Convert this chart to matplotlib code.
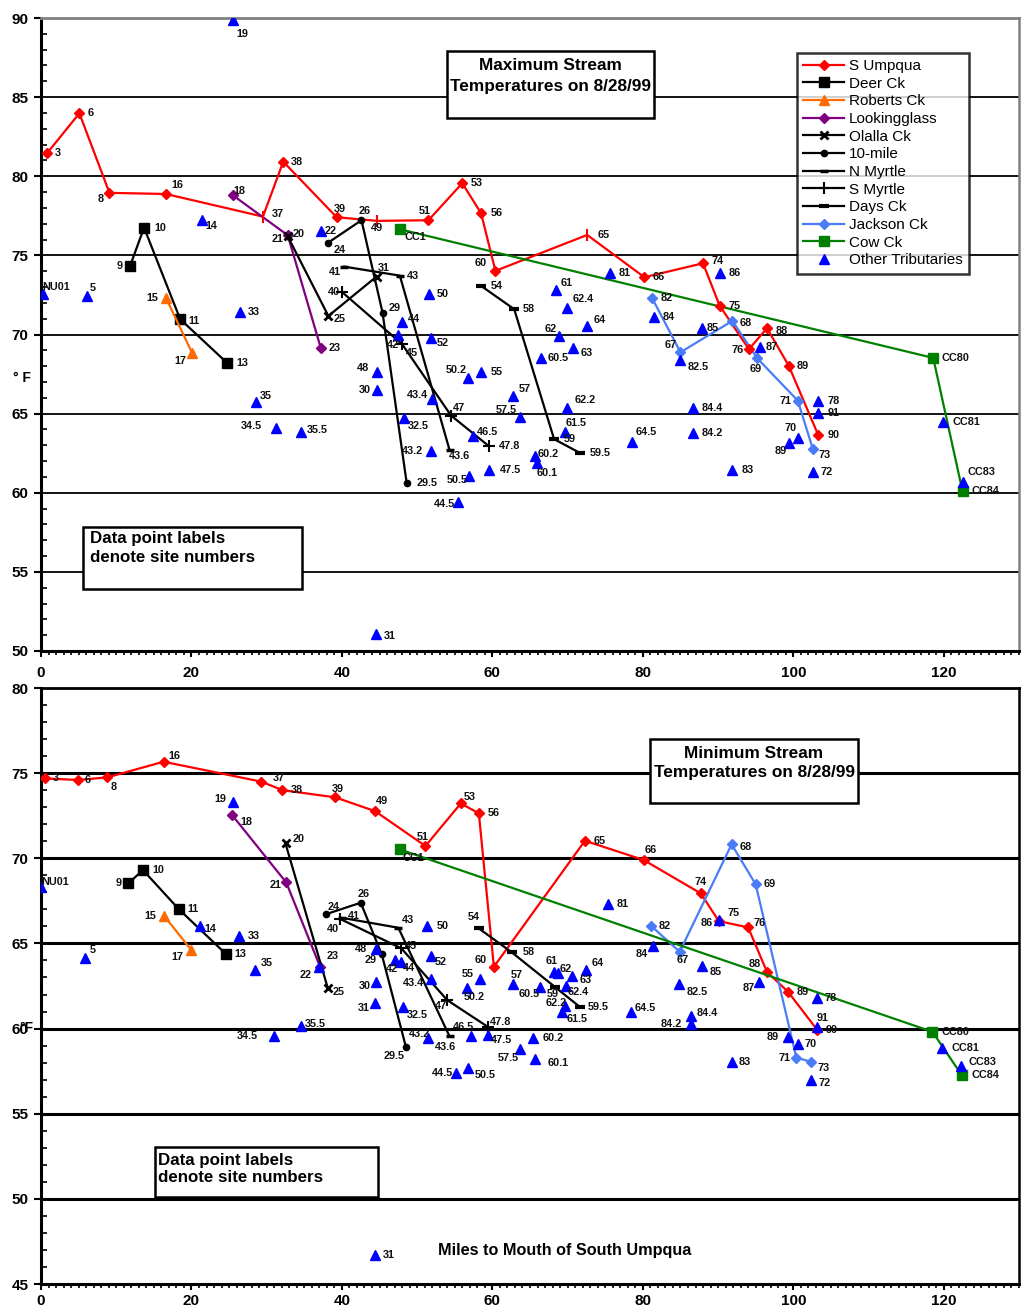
import matplotlib
matplotlib.use("Agg")
import matplotlib.pyplot as plt
from matplotlib.patches import Rectangle
from matplotlib.lines import Line2D
from matplotlib.ticker import MultipleLocator

plt.rcParams['font.family'] = ['Liberation Sans', 'DejaVu Sans']

# ---------------- DATA : maximum temperatures (top panel) ----------------
su_max_lab = ["3", "6", "8", "16", "37", "38", "39", "49", "51", "53", "56", "60", "65", "66", "74", "75", "76", "88", "89", "90"]
su_max_x = [0.8, 5.1, 9.1, 16.6, 29.5, 32.2, 39.3, 44.7, 51.5, 56.0, 58.5, 60.4, 72.6, 80.2, 88.0, 90.2, 94.1, 96.5, 99.4, 103.3]
su_max_y = [81.45, 83.98, 78.95, 78.88, 77.45, 80.92, 77.41, 77.18, 77.22, 79.56, 77.66, 74.02, 76.29, 73.62, 74.5, 71.83, 69.07, 70.4, 68.02, 63.66]

deer_max_lab = ["9", "10", "11", "13"]
deer_max_x = [11.85, 13.7, 18.5, 24.7]
deer_max_y = [74.35, 76.75, 70.97, 68.22]

rob_max_lab = ["15", "17"]
rob_max_x = [16.6, 20.1]
rob_max_y = [72.33, 68.82]

look_max_lab = ["18", "21", "23"]
look_max_x = [25.5, 32.8, 37.2]
look_max_y = [78.8, 76.27, 69.13]

ola_max_lab = ["20", "25", "31"]
ola_max_x = [32.8, 38.2, 44.6]
ola_max_y = [76.2, 71.17, 73.66]

ten_max_lab = ["24", "26", "29", "29.5"]
ten_max_x = [38.2, 42.6, 45.4, 48.6]
ten_max_y = [75.81, 77.22, 71.38, 60.64]

nmy_max_lab = ["41", "43", "43.6"]
nmy_max_x = [40.3, 47.7, 54.3]
nmy_max_y = [74.29, 73.72, 62.71]

smy_max_lab = ["40", "45", "47", "47.8"]
smy_max_x = [40.05, 48.0, 54.5, 59.5]
smy_max_y = [72.67, 69.39, 64.88, 62.96]

days_max_lab = ["54", "58", "59", "59.5"]
days_max_x = [58.5, 62.9, 68.2, 71.7]
days_max_y = [73.07, 71.6, 63.39, 62.5]

jack_max_lab = ["82", "67", "68", "69", "71", "73"]
jack_max_x = [81.2, 85.0, 91.9, 95.2, 100.6, 102.6]
jack_max_y = [72.33, 68.88, 70.86, 68.5, 65.82, 62.75]

cow_max_lab = ["CC1", "CC80", "CC84"]
cow_max_x = [47.7, 118.6, 122.5]
cow_max_y = [76.65, 68.52, 60.08]

trib_max_lab = ["NU01", "5", "19", "14", "33", "22", "35", "34.5", "35.5", "31", "50", "44", "42", "52", "48", "30",
                "50.2", "55", "43.4", "32.5", "43.2", "46.5", "47.5", "50.5", "44.5", "57", "57.5", "61", "62.4", "64",
                "62", "63", "60.5", "62.2", "61.5", "60.2", "60.1", "81", "64.5", "86", "84", "85", "82.5", "87", "84.4",
                "84.2", "83", "78", "91", "70", "89", "72", "CC81", "CC83"]
trib_max_x = [0.2, 6.1, 25.5, 21.4, 26.5, 37.2, 28.6, 31.2, 34.6, 44.5, 51.6, 48.0, 47.4, 51.9, 44.6, 44.7,
              56.7, 58.5, 52.0, 48.3, 51.8, 57.4, 59.6, 56.9, 55.4, 62.8, 63.7, 68.5, 69.9, 72.6,
              68.8, 70.7, 66.5, 69.9, 69.6, 65.6, 65.9, 75.7, 78.5, 90.3, 81.5, 87.9, 85.0, 95.6, 86.7,
              86.7, 91.9, 103.3, 103.3, 100.6, 99.4, 102.6, 119.9, 122.5]
trib_max_y = [72.56, 72.46, 89.9, 77.24, 71.43, 76.56, 65.76, 64.12, 63.87, 51.09, 72.55, 70.78, 69.97, 69.77, 67.66, 66.5,
              67.24, 67.66, 65.91, 64.75, 62.65, 63.61, 61.45, 61.07, 59.44, 66.12, 64.78, 72.82, 71.7, 70.56,
              69.91, 69.13, 68.54, 65.38, 63.83, 62.35, 61.87, 73.87, 63.23, 73.87, 71.13, 70.4, 68.4, 69.24, 65.38,
              63.76, 61.45, 65.82, 65.03, 63.49, 63.13, 61.3, 64.5, 60.71]

# ---------------- DATA : minimum temperatures (bottom panel) ----------------
su_min_lab = ["3", "6", "8", "16", "37", "38", "39", "49", "51", "53", "56", "60", "65", "66", "74", "75", "76", "88", "89", "90"]
su_min_x = [0.5, 4.9, 8.8, 16.3, 29.3, 32.1, 39.1, 44.4, 51.1, 55.8, 58.2, 60.2, 72.3, 80.1, 87.7, 90.1, 94.0, 96.5, 99.3, 103.2]
su_min_y = [74.69, 74.6, 74.75, 75.67, 74.5, 74.0, 73.58, 72.77, 70.72, 73.22, 72.64, 63.63, 71.03, 69.9, 67.94, 66.31, 65.94, 63.33, 62.16, 59.91]

deer_min_lab = ["9", "10", "11", "13"]
deer_min_x = [11.6, 13.55, 18.3, 24.6]
deer_min_y = [68.52, 69.31, 67.02, 64.37]

rob_min_lab = ["15", "17"]
rob_min_x = [16.4, 20.0]
rob_min_y = [66.6, 64.6]

look_min_lab = ["18", "21", "23"]
look_min_x = [25.4, 32.6, 37.1]
look_min_y = [72.54, 68.58, 63.63]

ola_min_lab = ["20", "25"]
ola_min_x = [32.5, 38.1]
ola_min_y = [70.87, 62.41]

ten_min_lab = ["24", "26", "29", "29.5"]
ten_min_x = [37.9, 42.5, 45.3, 48.5]
ten_min_y = [66.72, 67.39, 64.35, 58.93]

nmy_min_lab = ["41", "43", "43.6"]
nmy_min_x = [40.05, 47.5, 54.3]
nmy_min_y = [66.5, 65.92, 59.55]

smy_min_lab = ["40", "45", "47", "47.8"]
smy_min_x = [39.8, 47.9, 54.0, 59.4]
smy_min_y = [66.43, 64.71, 61.67, 60.1]

days_min_lab = ["54", "58", "59", "59.5"]
days_min_x = [58.2, 62.6, 68.3, 71.6]
days_min_y = [65.88, 64.47, 62.45, 61.28]

jack_min_lab = ["82", "67", "68", "69", "71", "73"]
jack_min_x = [81.1, 84.9, 91.8, 95.0, 100.4, 102.4]
jack_min_y = [66.03, 64.51, 70.82, 68.47, 58.3, 58.04]

cow_min_lab = ["CC1", "CC80", "CC84"]
cow_min_x = [47.7, 118.5, 122.4]
cow_min_y = [70.52, 59.81, 57.26]

trib_min_lab = ["NU01", "5", "19", "14", "33", "35", "22", "34.5", "35.5", "48", "42", "44", "50", "52", "30", "31",
                "43.4", "32.5", "43.2", "55", "50.2", "46.5", "47.5", "57", "60.5", "61", "62", "63", "64", "62.4",
                "62.2", "61.5", "60.2", "57.5", "60.1", "44.5", "50.5", "81", "64.5", "84", "85", "82.5", "84.4",
                "84.2", "86", "87", "78", "91", "89", "70", "83", "72", "CC81", "CC83", "31"]
trib_min_x = [0.0, 5.9, 25.5, 21.2, 26.3, 28.4, 36.9, 31.0, 34.5, 44.5, 47.1, 47.9, 51.3, 51.8, 44.5, 44.4,
              51.8, 48.1, 51.5, 58.3, 56.6, 57.1, 59.4, 62.7, 66.3, 68.2, 68.7, 70.6, 72.4, 69.8,
              69.7, 69.3, 65.4, 63.7, 65.7, 55.2, 56.7, 75.4, 78.4, 81.3, 87.8, 84.8, 86.4,
              86.4, 90.1, 95.5, 103.2, 103.2, 99.3, 100.6, 91.8, 102.3, 119.7, 122.3, 44.4]
trib_min_y = [68.33, 64.15, 73.28, 66.02, 65.43, 63.43, 63.59, 59.55, 60.16, 64.65, 64.02, 63.92, 66.03, 64.25, 62.74, 61.53,
              62.9, 61.24, 59.45, 62.94, 62.36, 59.55, 59.65, 62.59, 62.45, 63.3, 63.24, 63.08, 63.43, 62.49,
              61.32, 60.95, 59.45, 58.79, 58.2, 57.42, 57.66, 67.31, 60.98, 64.86, 63.68, 62.61, 60.73,
              60.26, 66.37, 62.74, 61.8, 60.1, 59.48, 59.08, 58.04, 56.97, 58.83, 57.81, 46.69]

SERIES_NAMES = ["S Umpqua", "Deer Ck", "Roberts Ck", "Lookingglass", "Olalla Ck", "10-mile",
                "N Myrtle", "S Myrtle", "Days Ck", "Jackson Ck", "Cow Ck"]
MAX_DATA = {
    "S Umpqua": (su_max_lab, su_max_x, su_max_y), "Deer Ck": (deer_max_lab, deer_max_x, deer_max_y),
    "Roberts Ck": (rob_max_lab, rob_max_x, rob_max_y), "Lookingglass": (look_max_lab, look_max_x, look_max_y),
    "Olalla Ck": (ola_max_lab, ola_max_x, ola_max_y), "10-mile": (ten_max_lab, ten_max_x, ten_max_y),
    "N Myrtle": (nmy_max_lab, nmy_max_x, nmy_max_y), "S Myrtle": (smy_max_lab, smy_max_x, smy_max_y),
    "Days Ck": (days_max_lab, days_max_x, days_max_y), "Jackson Ck": (jack_max_lab, jack_max_x, jack_max_y),
    "Cow Ck": (cow_max_lab, cow_max_x, cow_max_y), "Other Tributaries": (trib_max_lab, trib_max_x, trib_max_y),
}
MIN_DATA = {
    "S Umpqua": (su_min_lab, su_min_x, su_min_y), "Deer Ck": (deer_min_lab, deer_min_x, deer_min_y),
    "Roberts Ck": (rob_min_lab, rob_min_x, rob_min_y), "Lookingglass": (look_min_lab, look_min_x, look_min_y),
    "Olalla Ck": (ola_min_lab, ola_min_x, ola_min_y), "10-mile": (ten_min_lab, ten_min_x, ten_min_y),
    "N Myrtle": (nmy_min_lab, nmy_min_x, nmy_min_y), "S Myrtle": (smy_min_lab, smy_min_x, smy_min_y),
    "Days Ck": (days_min_lab, days_min_x, days_min_y), "Jackson Ck": (jack_min_lab, jack_min_x, jack_min_y),
    "Cow Ck": (cow_min_lab, cow_min_x, cow_min_y), "Other Tributaries": (trib_min_lab, trib_min_x, trib_min_y),
}

# ---------------- STYLES ----------------
STYLES = {
    "S Umpqua": dict(color='#FF0000', marker='D', ms=5),
    "Deer Ck": dict(color='black', marker='s', ms=7),
    "Roberts Ck": dict(color='#FF6A00', marker='^', ms=7),
    "Lookingglass": dict(color='#800080', marker='D', ms=5),
    "Olalla Ck": dict(color='black', marker='x', ms=6, mew=2),
    "10-mile": dict(color='black', marker='o', ms=4.5),
    "N Myrtle": dict(color='black', marker='_', ms=6, mew=2.5),
    "S Myrtle": dict(color='black', marker='+', ms=8, mew=1.5),
    "Days Ck": dict(color='black', marker='_', ms=7, mew=3),
    "Jackson Ck": dict(color='#4A7CF7', marker='D', ms=5),
    "Cow Ck": dict(color='#008000', marker='s', ms=7),
}
TRIB_STYLE = dict(color='#0000FF', marker='^', ms=7, linestyle='none')
TICKMARK_PTS_MAX = {"37", "49", "65"}   # S Umpqua points drawn with a vertical tick in the top panel

# label offsets in pixels (dx, dy up-positive, horizontal alignment)
OFF_MAX = {
    "S Umpqua": {"8": (-6, -6, 'r'), "16": (5, 9, 'l'), "37": (9, 3, 'l'), "39": (3, 8, 'c'), "49": (0, -7, 'c'),
                 "51": (-4, 9, 'c'), "56": (10, 0, 'l'), "60": (-9, 8, 'r'), "65": (10, 0, 'l'), "74": (8, 2, 'l'),
                 "75": (9, 0, 'l'), "76": (-5, -1, 'r'), "88": (9, -3, 'l'), "90": (9, 0, 'l')},
    "Deer Ck": {"9": (-8, 0, 'r'), "10": (10, 0, 'l'), "11": (8, -2, 'l'), "13": (10, 0, 'l')},
    "Roberts Ck": {"15": (-8, 0, 'r'), "17": (-6, -8, 'r')},
    "Lookingglass": {"18": (1, 4, 'l'), "21": (-4, -4, 'r')},
    "Olalla Ck": {"20": (5, 2, 'l'), "25": (5, -3, 'l'), "31": (7, 9, 'c')},
    "10-mile": {"24": (5, -7, 'l'), "26": (3, 9, 'c'), "29": (6, 5, 'l'), "29.5": (10, 0, 'l')},
    "N Myrtle": {"41": (-3, -5, 'r'), "43": (7, 0, 'l'), "43.6": (-1, -6, 'l')},
    "S Myrtle": {"40": (-2, 0, 'r'), "45": (4, -9, 'l'), "47": (2, 8, 'l'), "47.8": (10, 0, 'l')},
    "Days Ck": {"54": (10, 0, 'l'), "58": (9, 0, 'l'), "59": (10, 0, 'l'), "59.5": (9, 0, 'l')},
    "Jackson Ck": {"82": (9, 0, 'l'), "67": (-4, 7, 'r'), "68": (7, -2, 'l'), "69": (-2, -11, 'c'),
                   "71": (-6, 0, 'r'), "73": (6, -6, 'l')},
    "Cow Ck": {"CC1": (5, -8, 'l'), "CC84": (9, 0, 'l')},
    "Other Tributaries": {
        "NU01": (0, 7, 'l'), "5": (3, 8, 'l'), "19": (4, -14, 'l'), "14": (3, -6, 'l'), "33": (7, 0, 'l'),
        "22": (4, 0, 'l'), "35": (4, 6, 'l'), "34.5": (-14, 2, 'r'), "35.5": (5, 2, 'l'), "31": (8, -2, 'l'),
        "44": (6, 3, 'l'), "42": (-5, -10, 'c'), "52": (5, -5, 'l'), "48": (-7, 4, 'r'), "30": (-6, 0, 'r'),
        "50.2": (-1, 8, 'r'), "55": (10, 0, 'l'), "43.4": (-4, 4, 'r'), "32.5": (3, -8, 'l'), "43.2": (-8, 0, 'r'),
        "46.5": (4, 4, 'l'), "47.5": (10, 0, 'l'), "50.5": (-1, -4, 'r'), "44.5": (-3, -2, 'r'), "57": (5, 7, 'l'),
        "57.5": (-3, 7, 'r'), "61": (4, 7, 'l'), "62.4": (6, 9, 'l'), "64": (6, 6, 'l'), "62": (-2, 7, 'r'),
        "63": (8, -5, 'l'), "60.5": (6, 0, 'l'), "62.2": (8, 8, 'l'), "61.5": (1, 9, 'l'), "60.2": (3, 2, 'l'),
        "60.1": (0, -10, 'l'), "64.5": (4, 10, 'l'), "85": (4, 0, 'l'), "82.5": (7, -7, 'l'), "87": (5, 0, 'l'),
        "83": (9, 0, 'l'), "78": (9, 0, 'l'), "91": (9, 0, 'l'), "70": (-7, 10, 'c'), "89": (-2, -8, 'r'),
        "CC81": (9, 0, 'l'), "CC83": (5, 10, 'l')},
}
OFF_MIN = {
    "S Umpqua": {"6": (7, 0, 'l'), "8": (3, -10, 'l'), "16": (5, 6, 'l'), "37": (11, 4, 'l'), "39": (3, 8, 'c'),
                 "49": (7, 10, 'c'), "51": (-3, 9, 'c'), "53": (3, 6, 'l'), "56": (9, 0, 'l'), "60": (-7, 7, 'r'),
                 "65": (9, 0, 'l'), "66": (7, 10, 'c'), "74": (0, 11, 'c'), "75": (9, 8, 'l'), "76": (5, 4, 'l'),
                 "88": (-6, 8, 'r'), "89": (9, 0, 'l')},
    "Deer Ck": {"9": (-7, 0, 'r'), "10": (9, 0, 'l'), "11": (9, 0, 'l')},
    "Roberts Ck": {"15": (-8, 0, 'r'), "17": (-8, -7, 'r')},
    "Lookingglass": {"18": (8, -7, 'l'), "21": (-5, -3, 'r'), "23": (7, 11, 'l')},
    "Olalla Ck": {"20": (7, 4, 'l'), "25": (5, -4, 'l')},
    "10-mile": {"24": (2, 7, 'l'), "26": (3, 9, 'c'), "29": (-5, -6, 'r'), "29.5": (-12, -9, 'c')},
    "N Myrtle": {"41": (6, 2, 'l'), "43": (4, 8, 'l'), "43.6": (-4, -11, 'c')},
    "S Myrtle": {"40": (-7, -10, 'c'), "45": (4, 2, 'l'), "47": (-6, -6, 'c'), "47.8": (2, 5, 'l')},
    "Days Ck": {"54": (-5, 11, 'c'), "58": (11, 0, 'l'), "59": (-2, -7, 'c')},
    "Jackson Ck": {"67": (3, -8, 'c'), "68": (8, -3, 'l'), "71": (-6, 0, 'r'), "73": (6, -6, 'l')},
    "Cow Ck": {"CC1": (3, -9, 'l'), "CC80": (9, 0, 'l'), "CC84": (10, 0, 'l')},
    "Other Tributaries": {
        "NU01": (0, 5, 'l'), "5": (4, 8, 'l'), "19": (-7, 3, 'r'), "14": (4, -3, 'l'), "33": (9, 0, 'l'),
        "35": (6, 7, 'l'), "22": (-7, -8, 'r'), "34.5": (-16, 0, 'r'), "35.5": (4, 2, 'l'), "48": (-9, 0, 'r'),
        "42": (-3, -9, 'c'), "44": (2, -6, 'l'), "50": (10, 0, 'l'), "52": (4, -6, 'l'), "30": (-5, -4, 'r'),
        "31": (-5, -5, 'r'), "43.4": (-7, -4, 'r'), "32.5": (4, -8, 'l'), "43.2": (-9, 4, 'c'), "55": (-6, 5, 'r'),
        "50.2": (7, -9, 'c'), "46.5": (-7, 9, 'c'), "47.5": (3, -5, 'l'), "57": (4, 9, 'c'), "60.5": (-11, -7, 'c'),
        "61": (-2, 11, 'c'), "62": (2, 4, 'l'), "63": (7, -4, 'l'), "64": (6, 7, 'l'), "62.4": (2, -6, 'l'),
        "62.2": (-9, 3, 'c'), "61.5": (4, -7, 'l'), "60.2": (10, 0, 'l'), "57.5": (-12, -9, 'c'), "60.1": (12, -4, 'l'),
        "44.5": (-3, 0, 'r'), "50.5": (7, -7, 'l'), "64.5": (4, 4, 'l'), "84": (-5, -8, 'r'), "85": (8, -6, 'l'),
        "82.5": (8, -8, 'l'), "84.4": (6, 3, 'l'), "84.2": (-9, 0, 'r'), "86": (-6, -3, 'r'), "87": (-5, -6, 'r'),
        "78": (7, 0, 'l'), "91": (5, 9, 'c'), "89": (-9, 0, 'r'), "70": (7, 0, 'l'), "83": (7, 0, 'l'),
        "72": (8, -3, 'l'), "CC81": (10, 0, 'l'), "CC83": (7, 4, 'l'), "31#2": (8, 0, 'l')},
}
DEFAULT_OFF = (8, 0, 'l')
HA = {'l': 'left', 'r': 'right', 'c': 'center'}

W, H = 1021, 1313
fig = plt.figure(figsize=(W / 100, H / 100), dpi=100)


def fx(px):
    return px / W


def fy(py):
    return 1 - py / H


def label_points(ax, name, labs, xs, ys, offs):
    seen = {}
    for lab, x, y in zip(labs, xs, ys):
        key = lab if lab not in seen else lab + "#2"
        seen[lab] = 1
        dx, dy, ha = offs.get(name, {}).get(key, DEFAULT_OFF)
        ax.annotate(lab, (x, y), xytext=(dx, dy), textcoords='offset pixels', ha=HA[ha], va='center',
                    fontsize=7.8, fontweight='bold', color='#111111', zorder=6, annotation_clip=False)


def draw_panel(ax, data, offs, ylim, gridvals, grid_lw, top_color, right_color, tick_pts, xpad):
    ax.set_xlim(0, 130)
    ax.set_ylim(*ylim)
    for gv in gridvals:
        ax.axhline(gv, color='black', lw=grid_lw, zorder=1)
    for name in SERIES_NAMES:
        labs, xs, ys = data[name]
        st = dict(STYLES[name])
        if name == "S Umpqua" and tick_pts:
            ax.plot(xs, ys, color=st['color'], lw=1.6, zorder=3)
            for lab, x, y in zip(labs, xs, ys):
                if lab in tick_pts:
                    ax.plot([x], [y], marker='|', ms=9, mew=1.5, color=st['color'], zorder=4)
                else:
                    ax.plot([x], [y], marker='D', ms=st['ms'], color=st['color'], zorder=4)
        else:
            ax.plot(xs, ys, lw=1.6, zorder=3, **st)
        label_points(ax, name, labs, xs, ys, offs)
    labs, xs, ys = data["Other Tributaries"]
    ax.plot(xs, ys, zorder=5, **TRIB_STYLE)
    label_points(ax, "Other Tributaries", labs, xs, ys, offs)

    ax.xaxis.set_major_locator(MultipleLocator(20))
    ax.xaxis.set_minor_locator(MultipleLocator(1))
    ax.yaxis.set_major_locator(MultipleLocator(5))
    ax.yaxis.set_minor_locator(MultipleLocator(1))
    ax.tick_params(axis='y', which='major', direction='out', length=5, width=1.5, pad=4)
    ax.tick_params(axis='y', which='minor', direction='in', length=4, width=1.2)
    ax.tick_params(axis='x', which='major', direction='out', length=4, width=1.5, pad=xpad)
    ax.tick_params(axis='x', which='minor', direction='out', length=3, width=1.2)
    for lab in ax.get_xticklabels() + ax.get_yticklabels():
        lab.set_fontsize(11)
        lab.set_fontweight('bold')
    ax.spines['left'].set_linewidth(2.2)
    ax.spines['bottom'].set_linewidth(2.2)
    ax.spines['top'].set_color(top_color)
    ax.spines['top'].set_linewidth(2)
    ax.spines['right'].set_color(right_color)
    ax.spines['right'].set_linewidth(1.8)


ax1 = fig.add_axes([fx(41), fy(651), fx(1019) - fx(41), fy(18) - fy(651)])
ax2 = fig.add_axes([fx(41), fy(1284), fx(1019) - fx(41), fy(688) - fy(1284)])

draw_panel(ax1, MAX_DATA, OFF_MAX, (50, 90), [55, 60, 65, 70, 75, 80, 85], 1.3, '#808080', '#808080',
           TICKMARK_PTS_MAX, 7)
draw_panel(ax2, MIN_DATA, OFF_MIN, (45, 80), [50, 55, 60, 65, 70, 75], 2.2, 'black', 'black', None, 3)

# legend (top panel)
handles = []
for name in SERIES_NAMES:
    handles.append(Line2D([], [], lw=1.6, **STYLES[name]))
handles.append(Line2D([], [], **TRIB_STYLE))
leg = ax1.legend(handles, SERIES_NAMES + ["Other Tributaries"], loc='upper left',
                 bbox_to_anchor=((797 - 41) / 978, (651 - 53) / 633), frameon=True, fancybox=False,
                 fontsize=11, handlelength=2.7, labelspacing=0.24, borderpad=0.4, handletextpad=0.3,
                 borderaxespad=0)
leg.get_frame().set_edgecolor('black')
leg.get_frame().set_linewidth(1.8)
leg.set_zorder(10)


def box(x0, y0, x1, y1, lw=1.5):
    fig.add_artist(Rectangle((fx(x0), fy(y1)), fx(x1) - fx(x0), fy(y0) - fy(y1), transform=fig.transFigure,
                             facecolor='white', edgecolor='black', lw=lw, zorder=8))


def ftext(x, y, s, ha='center', size=11):
    fig.text(fx(x), fy(y), s, ha=ha, va='center', fontsize=size, fontweight='bold', zorder=9)


# title boxes
box(447, 51, 654, 118, lw=1.8)
ftext(550.5, 66, "Maximum Stream", size=12.4)
ftext(550.5, 86, "Temperatures on 8/28/99", size=12.4)
box(650, 739, 858, 803, lw=1.8)
ftext(754, 753, "Minimum Stream", size=12.4)
ftext(754, 773, "Temperatures on 8/28/99", size=12.4)

# note boxes
box(83, 527, 302, 589, lw=1.8)
ftext(90, 538, "Data point labels", ha='left', size=12.2)
ftext(90, 557, "denote site numbers", ha='left', size=12.2)
box(155, 1147, 378, 1197, lw=1.8)
ftext(158, 1160, "Data point labels", ha='left', size=12.2)
ftext(158, 1178, "denote site numbers", ha='left', size=12.2)

# axis labels
ftext(22, 378, "° F", size=10)
ftext(26, 1028, "°F", size=10)
ftext(565, 1250, "Miles to Mouth of South Umpqua", size=11.7)

fig.savefig("out.png", dpi=100)
